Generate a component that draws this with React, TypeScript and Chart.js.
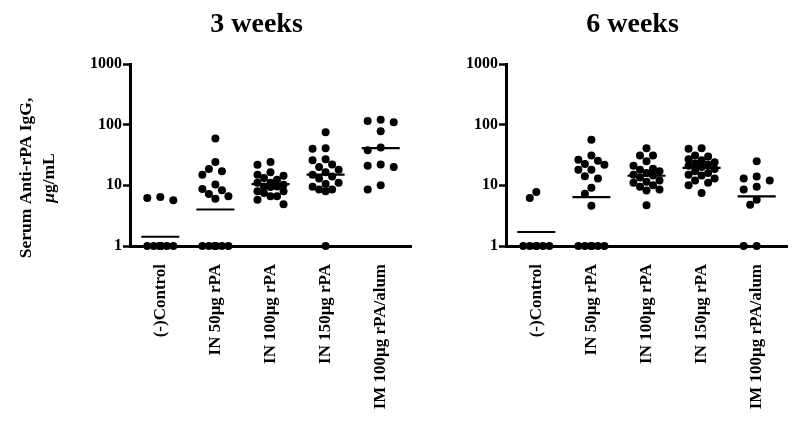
import React, { useEffect, useRef } from "react";
import { Chart, registerables } from "chart.js";

Chart.register(...registerables);

const FONT = '"Liberation Serif", "Times New Roman", serif';

// ---- data ----
const groups = ["(-)Control", "IN 50μg rPA", "IN 100μg rPA", "IN 150μg rPA", "IM 100μg rPA/alum"];
const yTicks = [1, 10, 100, 1000];

// 3 weeks
const control3 = [6.2, 5.7, 6.4, 1, 1, 1, 1, 1, 1, 1, 1, 1, 1, 1, 1];
const in50_3 = [59, 24.3, 18.6, 17, 15, 10.3, 8.7, 8.3, 7.2, 6.6, 6.0, 1, 1, 1, 1, 1, 1, 1, 1, 1];
const in100_3 = [24.3, 21.9, 16.4, 15, 14.4, 13.2, 12.4, 11, 11, 10.2, 9.6, 9.6, 9.4, 8, 8, 7.5, 6.6, 6.6, 5.8, 4.9];
const in150_3 = [75, 41, 40, 27, 26, 22, 20, 18, 16.5, 15, 14, 13, 11, 10.5, 9.5, 8.5, 8.5, 8, 1];
const im_3 = [120, 115, 110, 78, 42, 38, 22, 21, 20, 10, 8.5];
const means3 = [1.42, 4.0, 10.5, 15, 41];

// 6 weeks
const control6 = [7.8, 6.2, 1, 1, 1, 1, 1, 1];
const in50_6 = [56.5, 31, 26.5, 25.5, 22.5, 21.9, 18.1, 18.1, 14.1, 12.9, 9.1, 7.3, 4.6, 1, 1, 1, 1, 1, 1, 1];
const in100_6 = [41, 31, 31, 25, 21, 18.7, 18, 17, 16, 15, 14.5, 13.5, 12, 11.5, 11, 10, 9.5, 8.5, 8.2, 4.7];
const in150_6 = [41, 40, 31, 30, 27, 26, 24, 23, 22, 21, 20, 18.5, 17, 16, 15, 14.5, 13, 12, 11, 10, 7.5];
const im_6 = [25, 14, 13, 12, 9.5, 8.5, 5.8, 4.8, 1, 1];
const means6 = [1.7, 6.4, 14.4, 19.4, 6.6];

const series3 = [control3, in50_3, in100_3, in150_3, im_3];
const series6 = [control6, in50_6, in100_6, in150_6, im_6];

// ---- scatter-dot layout (beeswarm-like spreading of close values) ----
function layoutGroup(gi: number, values: number[]) {
  const step = 6.5;
  const d = 8;
  const pxX = 55;
  const pxDec = 60.8;
  const slots = [0, -1, 1, -2, 2];
  const order = values.map((_, i) => i).sort((a, b) => values[b] - values[a]);
  const placed: { px: number; py: number }[] = [];
  const pts: { x: number; y: number }[] = [];
  for (const i of order) {
    const py = Math.log10(values[i]) * pxDec;
    let best = 0;
    let bestScore = -Infinity;
    for (const k of slots) {
      const px = k * step;
      let minD = Infinity;
      for (const p of placed) minD = Math.min(minD, Math.hypot(p.px - px, p.py - py));
      if (minD >= d) {
        best = k;
        break;
      }
      if (minD > bestScore) {
        bestScore = minD;
        best = k;
      }
    }
    placed.push({ px: best * step, py });
    pts.push({ x: gi + (best * step) / pxX, y: values[i] });
  }
  return pts;
}

function makeConfig(title: string, series: number[][], means: number[], isLeft: boolean): any {
  const points = series.flatMap((vals, gi) => layoutGroup(gi, vals));
  const meanData: any[] = [];
  means.forEach((m, gi) => {
    meanData.push({ x: gi - 0.345, y: m }, { x: gi + 0.345, y: m }, { x: gi + 0.5, y: null });
  });

  const titlePlugin = {
    id: "panelTitle",
    afterDraw(chart: any) {
      const ctx = chart.ctx;
      const a = chart.chartArea;
      ctx.save();
      ctx.font = `bold 28px ${FONT}`;
      ctx.fillStyle = "#000";
      ctx.textAlign = "center";
      ctx.textBaseline = "middle";
      ctx.fillText(title, (a.left + a.right) / 2 - 14, 25);
      ctx.restore();
    },
  };

  const yTitlePlugin = {
    id: "yTitle",
    afterDraw(chart: any) {
      if (!isLeft) return;
      const ctx = chart.ctx;
      ctx.save();
      ctx.translate(26, 178);
      ctx.rotate(-Math.PI / 2);
      ctx.fillStyle = "#000";
      ctx.textBaseline = "middle";
      ctx.font = `bold 17.5px ${FONT}`;
      ctx.textAlign = "center";
      ctx.fillText("Serum Anti-rPA IgG,", 0, 0);
      const italic = `italic bold 17.5px ${FONT}`;
      const bold = `bold 17.5px ${FONT}`;
      ctx.font = italic;
      const w1 = ctx.measureText("μ").width;
      ctx.font = bold;
      const w2 = ctx.measureText("g/mL").width;
      const start = -(w1 + w2) / 2;
      ctx.textAlign = "left";
      ctx.font = italic;
      ctx.fillText("μ", start, 23);
      ctx.font = bold;
      ctx.fillText("g/mL", start + w1, 23);
      ctx.restore();
    },
  };

  return {
    type: "scatter",
    data: {
      datasets: [
        {
          type: "scatter",
          data: points,
          pointRadius: 4,
          pointBackgroundColor: "#000",
          pointBorderColor: "#000",
          pointBorderWidth: 0,
          clip: false,
        },
        {
          type: "line",
          data: meanData,
          borderColor: "#000",
          borderWidth: 2.2,
          pointRadius: 0,
          spanGaps: false,
          clip: false,
          fill: false,
        },
      ],
    },
    options: {
      responsive: false,
      animation: false,
      events: [],
      layout: { padding: { top: 64, right: isLeft ? 9 : 13, bottom: 0, left: 0 } },
      plugins: { legend: { display: false }, tooltip: { enabled: false }, title: { display: false } },
      scales: {
        x: {
          type: "linear",
          min: -0.55,
          max: 4.55,
          afterBuildTicks: (s: any) => {
            s.ticks = groups.map((_, i) => ({ value: i }));
          },
          afterFit: (s: any) => {
            s.height = 178;
          },
          ticks: {
            callback: (v: any) => groups[v],
            minRotation: 90,
            maxRotation: 90,
            autoSkip: false,
            padding: 10,
            color: "#000",
            font: { family: FONT, size: 17, weight: "bold" },
          },
          grid: { display: false },
          border: { display: true, color: "#000", width: 3 },
        },
        y: {
          type: "logarithmic",
          min: 1,
          max: 1000,
          afterBuildTicks: (s: any) => {
            s.ticks = yTicks.map((v) => ({ value: v }));
          },
          afterFit: (s: any) => {
            s.width = isLeft ? 130 : 76;
          },
          ticks: {
            callback: (v: any) => String(v),
            padding: 1,
            color: "#000",
            font: { family: FONT, size: 16, weight: "bold" },
          },
          grid: {
            display: true,
            drawOnChartArea: false,
            drawTicks: true,
            tickLength: 7,
            tickWidth: 2.5,
            tickColor: "#000",
          },
          border: { display: true, color: "#000", width: 3 },
        },
      },
    },
    plugins: [titlePlugin, yTitlePlugin],
  };
}

function Panel({ title, series, means, isLeft, left, width }: any) {
  const ref = useRef<HTMLCanvasElement>(null);
  useEffect(() => {
    if (!ref.current) return;
    const chart = new Chart(ref.current, makeConfig(title, series, means, isLeft));
    return () => chart.destroy();
  }, []);
  return (
    <canvas
      ref={ref}
      width={width}
      height={424}
      style={{ position: "absolute", left, top: 0, width, height: 424 }}
    />
  );
}

export default function App() {
  return (
    <div style={{ position: "fixed", left: 0, top: 0, width: 800, height: 424, background: "#fff" }}>
      <Panel title="3 weeks" series={series3} means={means3} isLeft={true} left={0} width={420} />
      <Panel title="6 weeks" series={series6} means={means6} isLeft={false} left={430} width={370} />
    </div>
  );
}
